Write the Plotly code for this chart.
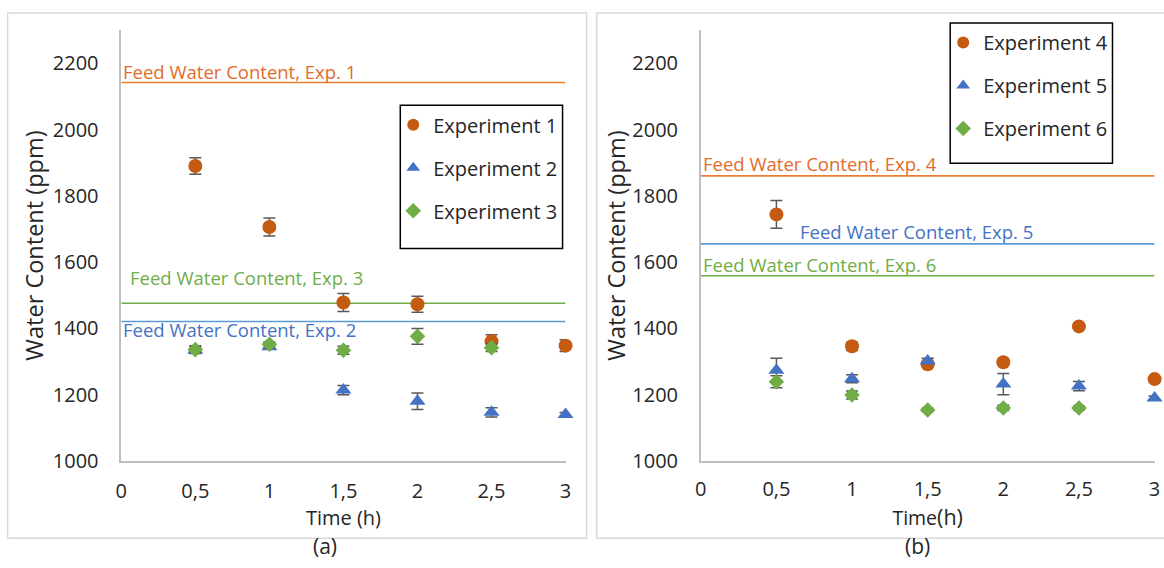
import plotly.graph_objects as go

# ---------------- data ----------------
time_a = [0.5, 1, 1.5, 2, 2.5, 3]
exp1 = [1890, 1706, 1478, 1473, 1361, 1348]
exp1_err = [25, 27, 27, 24, 20, 18]
exp2 = [1335, 1345, 1214, 1180, 1147, 1140]
exp2_err = [10, 8, 14, 25, 14, 6]
time_exp3 = [0.5, 1, 1.5, 2, 2.5]
exp3 = [1336, 1352, 1334, 1376, 1342]
exp3_err = [12, 8, 12, 24, 12]

time_b = [0.5, 1, 1.5, 2, 2.5, 3]
exp4 = [1744, 1346, 1292, 1298, 1406, 1247]
exp4_err = [42, 12, 8, 5, 5, 5]
exp5 = [1274, 1248, 1302, 1232, 1226, 1190]
exp5_err = [36, 12, 8, 32, 14, 6]
time_exp6 = [0.5, 1, 1.5, 2, 2.5]
exp6 = [1239, 1199, 1154, 1160, 1160]
exp6_err = [18, 12, 5, 8, 6]

feed_x = [0, 3]
feed_a = {"Exp. 1": 2142, "Exp. 2": 1421, "Exp. 3": 1476}
feed_b = {"Exp. 4": 1860, "Exp. 5": 1655, "Exp. 6": 1559}

x_ticks = [0, 0.5, 1, 1.5, 2, 2.5, 3]
x_ticktext = ["0", "0,5", "1", "1,5", "2", "2,5", "3"]
y_ticks = [1000, 1200, 1400, 1600, 1800, 2000, 2200]

# ---------------- style ----------------
ORANGE = "#C55A11"
BLUE = "#4472C4"
GREEN = "#70AD47"
LINE_OR = "#ED7D31"
LINE_BL = "#5B9BD5"
LINE_GR = "#70AD47"
ERR = "#595959"
TXT = "#262626"
FONT = "Open Sans"
W, H = 1164, 568
# calibration of layout pixels to the photographed picture
SX, OX, SY = 0.988, 6.4, 0.975

fig = go.Figure()


def err(arr):
    return dict(type="data", array=arr, visible=True, color=ERR, thickness=1.5, width=6)


def add_series(x, y, e, name, color, symbol, size, xa, ya, legend, group):
    fig.add_trace(go.Scatter(
        x=x, y=y, mode="markers", name=name,
        marker=dict(color=color, symbol=symbol, size=size, line=dict(width=0)),
        error_y=err(e), xaxis=xa, yaxis=ya, legend=legend, legendgroup=group,
        cliponaxis=False))


def add_feed(val, color, xa, ya):
    fig.add_trace(go.Scatter(
        x=feed_x, y=[val, val], mode="lines", line=dict(color=color, width=1.6),
        showlegend=False, xaxis=xa, yaxis=ya, hoverinfo="skip", cliponaxis=False))


add_feed(feed_a["Exp. 1"], LINE_OR, "x", "y")
add_feed(feed_a["Exp. 2"], LINE_BL, "x", "y")
add_feed(feed_a["Exp. 3"], LINE_GR, "x", "y")
add_feed(feed_b["Exp. 4"], LINE_OR, "x2", "y2")
add_feed(feed_b["Exp. 5"], LINE_BL, "x2", "y2")
add_feed(feed_b["Exp. 6"], LINE_GR, "x2", "y2")

add_series(time_a, exp1, exp1_err, "Experiment 1", ORANGE, "circle", 14, "x", "y", "legend", "g1")
add_series(time_a, exp2, exp2_err, "Experiment 2", BLUE, "triangle-up", 14, "x", "y", "legend", "g2")
add_series(time_exp3, exp3, exp3_err, "Experiment 3", GREEN, "diamond", 12, "x", "y", "legend", "g3")
add_series(time_b, exp4, exp4_err, "Experiment 4", ORANGE, "circle", 14, "x2", "y2", "legend2", "g4")
add_series(time_b, exp5, exp5_err, "Experiment 5", BLUE, "triangle-up", 14, "x2", "y2", "legend2", "g5")
add_series(time_exp6, exp6, exp6_err, "Experiment 6", GREEN, "diamond", 12, "x2", "y2", "legend2", "g6")

ax_common = dict(showgrid=False, zeroline=False, showline=True, linecolor="#BFBFBF",
                 linewidth=1.5, ticks="", tickfont=dict(family=FONT, size=20, color=TXT),
                 fixedrange=True)


def px(x):
    return ((x - OX) / SX) / W


def py(y):
    return 1 - (y / SY) / H


fig.update_layout(
    width=W, height=H, margin=dict(l=0, r=0, t=0, b=0),
    paper_bgcolor="white", plot_bgcolor="white",
    showlegend=True,
    xaxis=dict(domain=[px(121.5), px(565)], range=[0, 3], tickvals=x_ticks, ticktext=x_ticktext,
               anchor="y", ticklabelstandoff=11,
               title=dict(text="Time (h)", font=dict(family=FONT, size=20, color=TXT), standoff=2),
               **ax_common),
    yaxis=dict(domain=[py(460), py(30)], range=[1000, 2300], tickvals=y_ticks, anchor="x",
               ticklabelstandoff=17,
               title=dict(text="Water Content (ppm)", font=dict(family=FONT, size=23.5, color=TXT), standoff=3),
               **ax_common),
    xaxis2=dict(domain=[px(700), px(1153)], range=[0, 3], tickvals=x_ticks, ticktext=x_ticktext,
                anchor="y2", ticklabelstandoff=9,
                title=dict(text="Time<span style='font-size:21.5px'>(h)</span>",
                           font=dict(family=FONT, size=19.5, color=TXT), standoff=0),
                **ax_common),
    yaxis2=dict(domain=[py(460), py(30)], range=[1000, 2300], tickvals=y_ticks, anchor="x2",
                ticklabelstandoff=17,
                title=dict(text="Water Content (ppm)", font=dict(family=FONT, size=23.5, color=TXT), standoff=0),
                **ax_common),
    legend=dict(x=px(393), y=py(105), xanchor="left", yanchor="top",
                borderwidth=0, bgcolor="rgba(0,0,0,0)",
                font=dict(family=FONT, size=20, color=TXT),
                tracegroupgap=14, traceorder="grouped", itemsizing="constant",
                itemwidth=30),
    legend2=dict(x=px(942), y=py(23), xanchor="left", yanchor="top",
                 borderwidth=0, bgcolor="rgba(0,0,0,0)",
                 font=dict(family=FONT, size=20, color=TXT),
                 tracegroupgap=14, traceorder="grouped", itemsizing="constant",
                 itemwidth=30),
)

# panel borders
for x0, x1 in [(8, 586), (596, 1190)]:
    fig.add_shape(type="rect", xref="paper", yref="paper",
                  x0=px(x0), x1=px(x1), y0=py(537), y1=py(13),
                  line=dict(color="#D9D9D9", width=1.5), fillcolor="rgba(0,0,0,0)", layer="below")

# legend frames
for x0, x1, y0, y1 in [(400, 562, 105, 248), (949, 1111, 23, 163)]:
    fig.add_shape(type="rect", xref="paper", yref="paper",
                  x0=px(x0), x1=px(x1), y0=py(y1), y1=py(y0),
                  line=dict(color="black", width=1.5), fillcolor="rgba(0,0,0,0)", layer="above")


def feed_label(text, x, y, color, xa, ya, shift):
    fig.add_annotation(text=text, x=x, y=y, xref=xa, yref=ya, xanchor="left", yanchor="middle",
                       yshift=shift, showarrow=False,
                       font=dict(family=FONT, size=18.5, color=color))


feed_label("Feed Water Content, Exp. 1", 0.0, feed_a["Exp. 1"], "#E26B2A", "x", "y", 11)
feed_label("Feed Water Content, Exp. 2", 0.0, feed_a["Exp. 2"], "#4472C4", "x", "y", -8)
feed_label("Feed Water Content, Exp. 3", 0.045, feed_a["Exp. 3"], "#70AD47", "x", "y", 26)
feed_label("Feed Water Content, Exp. 4", 0.0, feed_b["Exp. 4"], "#E26B2A", "x2", "y2", 12)
feed_label("Feed Water Content, Exp. 5", 0.64, feed_b["Exp. 5"], "#4472C4", "x2", "y2", 12)
feed_label("Feed Water Content, Exp. 6", 0.0, feed_b["Exp. 6"], "#70AD47", "x2", "y2", 11)

for text, x in [("(a)", 325), ("(b)", 916)]:
    fig.add_annotation(text=text, x=px(x), y=1 - 559 / H, xref="paper", yref="paper",
                       xanchor="center", yanchor="middle", showarrow=False,
                       font=dict(family=FONT, size=21, color=TXT))

fig.write_html("out.html", config={"displayModeBar": False},
               post_script="document.body.style.margin='0px';document.body.style.overflow='hidden';")
